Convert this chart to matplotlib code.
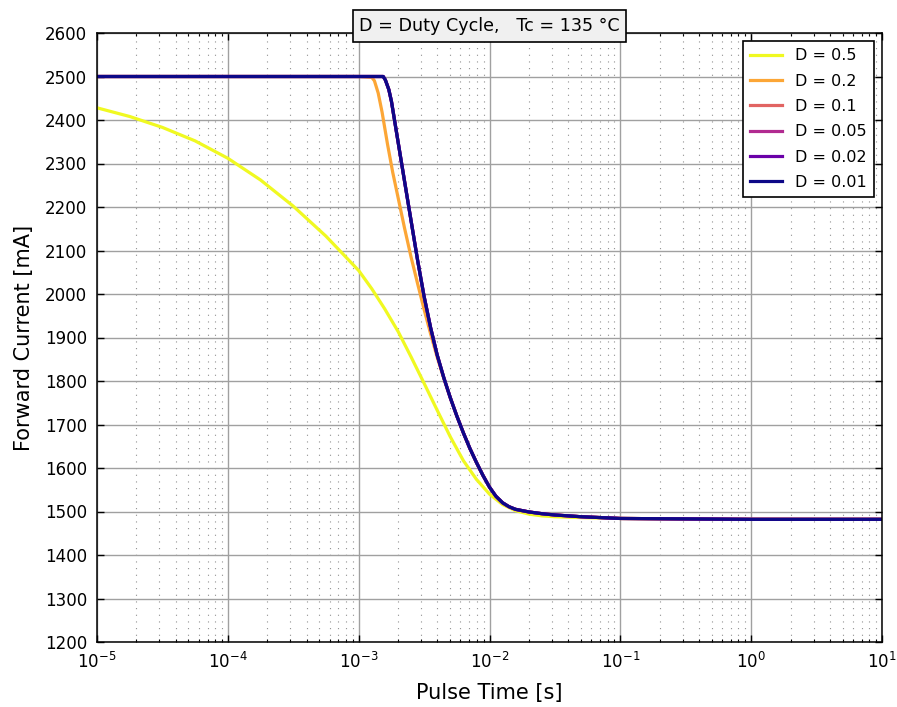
import matplotlib
matplotlib.use('Agg')
import matplotlib.pyplot as plt
from matplotlib.ticker import FixedLocator, MultipleLocator

# pulse time [s] and forward current [mA]
t_d050 = [1e-5, 1.78e-5, 3.16e-5, 5.62e-5, 1e-4, 1.78e-4, 3.16e-4, 5.62e-4, 1e-3,
          1.26e-3, 1.58e-3, 2.0e-3, 2.51e-3, 3.16e-3, 3.98e-3, 5.01e-3, 6.31e-3,
          7.94e-3, 1e-2, 1.26e-2, 1.58e-2, 2.0e-2, 2.51e-2, 3.16e-2, 5.01e-2,
          0.1, 1.0, 10.0]
i_d050 = [2428, 2408, 2383, 2352, 2312, 2262, 2202, 2133, 2054,
          2012, 1966, 1914, 1856, 1795, 1733, 1672, 1617,
          1574, 1540, 1516, 1502, 1494, 1490, 1488, 1486,
          1484, 1482, 1482]

t_d020 = [1e-5, 1e-4, 1e-3, 1.26e-3, 1.32e-3, 1.41e-3, 1.51e-3, 1.66e-3, 1.82e-3,
          2.0e-3, 2.24e-3, 2.51e-3, 2.82e-3, 3.16e-3, 3.55e-3, 3.98e-3, 4.47e-3,
          5.01e-3, 5.62e-3, 6.31e-3, 7.08e-3, 7.94e-3, 8.91e-3, 1e-2, 1.12e-2,
          1.26e-2, 1.41e-2, 1.58e-2, 2.0e-2, 2.51e-2, 3.16e-2, 5.01e-2, 0.1, 1.0, 10.0]
i_d020 = [2500, 2500, 2500, 2498, 2490, 2462, 2418, 2345, 2280,
          2222, 2152, 2086, 2024, 1965, 1908, 1855, 1806,
          1762, 1720, 1681, 1645, 1613, 1583, 1556, 1535,
          1520, 1511, 1505, 1499, 1495, 1492, 1488, 1484, 1482, 1482]

t_d010 = [1e-5, 1e-4, 1e-3, 1.54e-3, 1.60e-3, 1.70e-3, 1.78e-3, 2.0e-3, 2.24e-3,
          2.51e-3, 2.82e-3, 3.16e-3, 3.55e-3, 3.98e-3, 4.47e-3, 5.01e-3, 5.62e-3,
          6.31e-3, 7.08e-3, 7.94e-3, 8.91e-3, 1e-2, 1.12e-2, 1.26e-2, 1.41e-2,
          1.58e-2, 2.0e-2, 2.51e-2, 3.16e-2, 5.01e-2, 0.1, 1.0, 10.0]
i_d010 = [2500, 2500, 2500, 2500, 2492, 2470, 2443, 2350, 2260,
          2170, 2078, 1995, 1922, 1860, 1808, 1762, 1720,
          1681, 1645, 1613, 1583, 1556, 1535, 1520, 1511,
          1505, 1499, 1495, 1492, 1488, 1484, 1482, 1482]

# D = 0.05 and D = 0.02 lie under the D = 0.01 curve
t_d005 = t_d010
i_d005 = [2500, 2500, 2500, 2500, 2492, 2470, 2443, 2350, 2260,
          2170, 2078, 1995, 1922, 1860, 1808, 1762, 1720,
          1681, 1645, 1613, 1583, 1556, 1535, 1520, 1511,
          1505, 1499, 1495, 1492, 1488, 1484, 1482, 1482]

t_d002 = t_d010
i_d002 = [2500, 2500, 2500, 2500, 2492, 2470, 2443, 2350, 2260,
          2170, 2078, 1995, 1922, 1860, 1808, 1762, 1720,
          1681, 1645, 1613, 1583, 1556, 1535, 1520, 1511,
          1505, 1499, 1495, 1492, 1488, 1484, 1482, 1482]

t_d001 = t_d010
i_d001 = [2500, 2500, 2500, 2500, 2492, 2470, 2443, 2350, 2260,
          2170, 2078, 1995, 1922, 1860, 1808, 1762, 1720,
          1681, 1645, 1613, 1583, 1556, 1535, 1520, 1511,
          1505, 1499, 1495, 1492, 1488, 1484, 1482, 1482]

labels = ['D = 0.5', 'D = 0.2', 'D = 0.1', 'D = 0.05', 'D = 0.02', 'D = 0.01']
xs = [t_d050, t_d020, t_d010, t_d005, t_d002, t_d001]
ys = [i_d050, i_d020, i_d010, i_d005, i_d002, i_d001]
cmap_pos = [1.0, 0.8, 0.6, 0.4, 0.2, 0.0]

fig = plt.figure(figsize=(8.97, 7.07), dpi=100)
ax = fig.add_axes([97 / 897, 65 / 707, 785 / 897, 609 / 707])

for x, y, lab, c in zip(xs, ys, labels, cmap_pos):
    ax.plot(x, y, color=plt.cm.plasma(c), lw=2.3, label=lab)

ax.set_xscale('log')
ax.set_xlim(1e-5, 10)
ax.set_ylim(1200, 2600)
ax.yaxis.set_major_locator(MultipleLocator(100))
decades = [10.0 ** k for k in range(-5, 2)]
ax.xaxis.set_major_locator(FixedLocator(decades))
ax.xaxis.set_minor_locator(FixedLocator([m * d for d in decades[:-1] for m in range(2, 10)]))

ax.grid(which='major', color='#a0a0a0', linestyle='-', lw=1.0)
ax.grid(which='minor', axis='x', color='#909090', linestyle=(0, (1, 5)), lw=0.8)
ax.set_axisbelow(True)

ax.tick_params(which='both', direction='in', top=True, right=True, labelsize=12, color='black')
ax.tick_params(which='major', length=5, width=1, pad=7)
ax.tick_params(which='minor', length=2.5, width=0.8)
for s in ax.spines.values():
    s.set_linewidth(1.1)
    s.set_color('black')

ax.set_xlabel('Pulse Time [s]', fontsize=15, labelpad=8)
ax.set_ylabel('Forward Current [mA]', fontsize=15, labelpad=8)

ax.text(0.5, 1.0 + 7 / 609, 'D = Duty Cycle,   Tc = 135 °C', transform=ax.transAxes,
        ha='center', va='center', fontsize=12.6,
        bbox=dict(boxstyle='square,pad=0.38', facecolor='#f0f0f0', edgecolor='black', lw=1.2))

leg = ax.legend(loc='upper right', fontsize=11.5, fancybox=False, framealpha=1,
                edgecolor='black', handlelength=2.0, handletextpad=0.8,
                labelspacing=0.65, borderpad=0.45, borderaxespad=0.5)
leg.get_frame().set_linewidth(1.2)

fig.savefig('out.png', dpi=100, facecolor='white')
